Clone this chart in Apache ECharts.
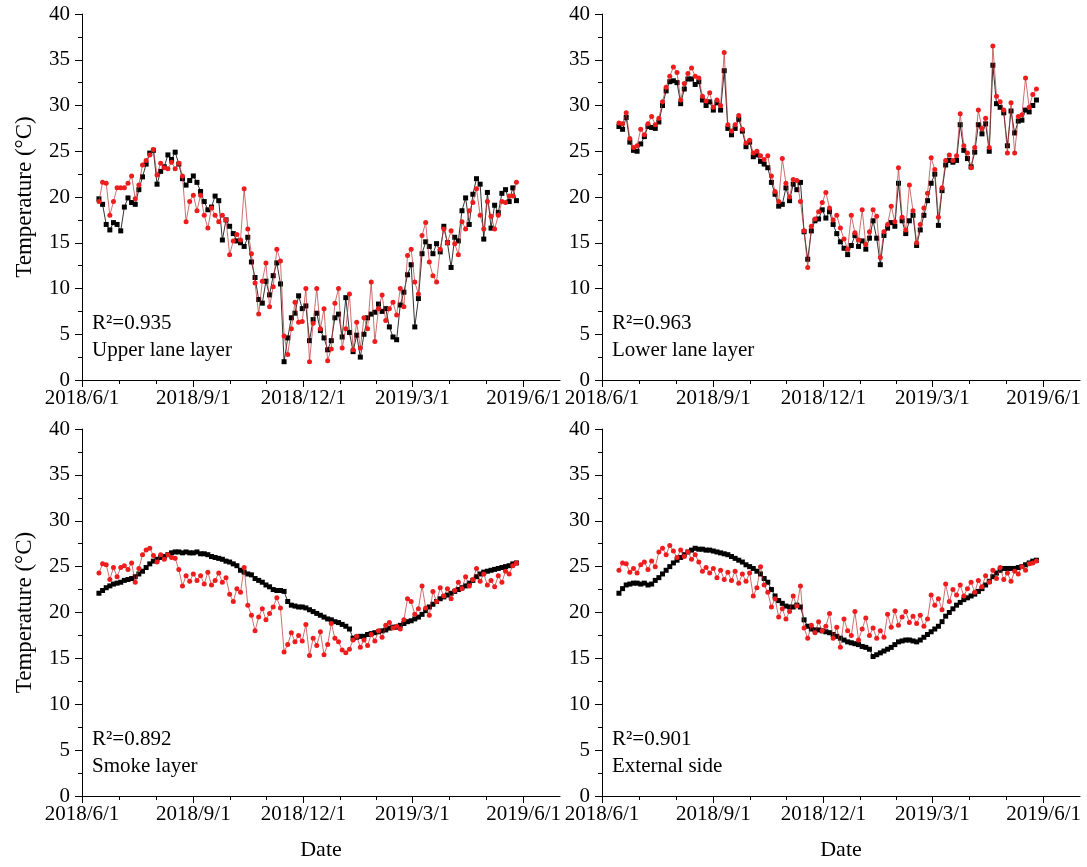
<!DOCTYPE html>
<html>
<head>
<meta charset="utf-8">
<script src="https://cdn.jsdelivr.net/npm/echarts@6/dist/echarts.min.js"></script>
<style>html,body{margin:0;padding:0;background:#fff}#c{width:1087px;height:867px}</style>
</head>
<body>
<div id="c"></div>
<script>
// ---- axis definitions (days since 2018/6/1) ----
const xTickDays = [0, 92, 183, 273, 365];
const xTickLabels = ['2018/6/1', '2018/9/1', '2018/12/1', '2019/3/1', '2019/6/1'];
const xMaxDay = 395;          // 2019/7/1
const yMin = 0, yMax = 40, yInterval = 5;

// ---- data: first sample on day 14 (2018/6/15), one sample every 3 days ----
const dayStart = 14;
const dayStep = 3;

const upperBlack = [
  19.8,19.2,17.0,16.4,17.2,17.0,16.3,18.9,19.9,19.4,
  19.2,20.8,22.2,23.6,24.8,25.1,21.4,22.8,23.3,24.6,
  24.1,24.9,23.6,22.0,21.3,21.8,22.3,21.6,20.6,19.5,
  18.6,18.9,20.1,19.6,15.3,17.5,16.8,16.0,15.2,15.0,
  14.6,15.6,12.9,11.2,8.8,8.4,10.8,9.3,11.4,12.8,
  10.5,2.0,4.6,6.8,7.3,9.2,7.8,8.1,4.3,6.6,
  7.3,5.4,4.6,3.3,4.3,6.8,7.2,4.7,9.0,5.2,
  3.1,4.9,2.5,5.0,6.8,7.2,7.4,8.3,7.5,7.8,
  5.8,4.7,4.4,8.2,9.6,11.5,12.6,5.8,8.9,13.8,
  15.1,14.6,13.8,14.9,14.0,16.8,15.0,12.3,15.6,15.2,
  18.5,19.9,17.0,20.3,22.0,21.4,15.4,20.5,16.6,19.1,
  18.3,20.4,20.8,19.5,21.0,19.6
];
const upperRed = [
  19.5,21.6,21.5,18.0,19.5,21.0,21.0,21.0,21.5,22.3,
  19.8,21.3,23.5,24.0,24.6,25.2,22.4,23.7,23.2,23.1,
  23.8,23.1,23.7,22.3,17.3,19.5,20.2,18.5,20.2,18.0,
  16.6,18.8,18.0,17.3,18.0,17.5,13.7,15.2,15.9,15.3,
  20.9,16.5,13.8,10.6,7.2,10.8,12.8,8.0,10.2,14.3,
  13.0,4.8,2.8,5.6,8.5,6.3,6.4,10.0,2.0,6.2,
  10.0,5.6,7.8,2.1,3.4,8.4,10.0,3.5,5.6,9.4,
  3.3,6.3,3.5,6.8,5.6,10.7,4.2,7.8,9.3,6.5,
  7.8,8.5,7.1,10.0,8.0,13.6,14.3,10.7,9.4,15.8,
  17.2,12.9,11.4,10.7,14.3,16.5,15.0,16.3,14.9,13.7,
  17.3,16.5,18.5,19.4,20.9,18.0,16.5,19.5,17.9,16.5,
  18.0,19.5,19.4,20.1,20.1,21.6
];
const lowerBlack = [
  27.7,27.4,28.7,26.0,25.1,25.0,25.8,26.6,27.7,27.6,
  27.5,28.2,30.0,31.6,32.6,32.7,32.5,30.2,31.8,32.9,
  32.9,32.3,32.6,30.6,30.0,30.4,29.5,30.3,29.5,33.8,
  27.5,26.8,27.5,28.5,27.2,25.5,26.0,24.4,24.6,23.9,
  23.6,23.2,21.6,20.3,19.0,19.2,21.0,19.6,21.4,20.8,
  21.6,16.2,13.2,16.3,17.4,17.6,18.6,17.7,18.4,17.0,
  16.0,15.1,14.4,13.7,14.7,15.8,14.6,15.2,14.3,15.5,
  17.4,15.5,12.6,15.8,16.6,17.2,16.8,21.5,17.4,16.0,
  17.4,18.0,14.7,16.4,18.0,19.6,21.5,22.5,16.9,20.7,
  23.5,24.0,23.8,24.0,27.9,25.1,24.2,23.3,24.9,27.9,
  26.9,28.0,25.0,34.4,30.2,29.8,29.2,25.6,29.4,27.0,
  28.3,28.4,29.5,29.3,30.0,30.6
];
const lowerRed = [
  28.1,28.0,29.2,26.4,25.4,25.6,27.4,26.8,28.0,28.8,
  27.9,28.6,30.4,32.0,33.2,34.2,33.6,30.6,32.4,33.5,
  34.1,33.2,33.0,31.0,30.5,31.4,29.8,30.6,30.0,35.8,
  27.9,27.2,27.9,28.9,27.4,25.9,26.2,24.8,25.0,24.5,
  24.1,24.5,22.3,20.6,19.5,24.2,21.5,20.0,21.9,21.8,
  19.5,16.3,12.3,16.8,17.6,18.4,19.4,20.5,18.8,17.5,
  18.0,16.6,15.4,14.3,18.0,16.1,15.3,18.6,14.8,16.2,
  18.6,17.9,13.4,16.2,17.0,19.0,17.3,23.2,17.8,16.4,
  21.3,18.5,15.0,17.0,18.8,20.4,24.3,23.0,17.8,21.0,
  24.0,24.6,24.0,24.5,29.1,25.6,24.8,23.2,25.4,29.5,
  27.5,28.6,25.4,36.5,31.0,30.4,29.5,24.8,30.3,24.8,
  28.8,29.0,33.0,29.8,31.2,31.8
];
const smokeBlack = [
  22.1,22.4,22.7,22.9,23.1,23.2,23.3,23.5,23.6,23.7,
  23.9,24.2,24.5,24.9,25.3,25.6,25.8,26.0,26.1,26.3,
  26.5,26.6,26.6,26.5,26.6,26.5,26.5,26.6,26.4,26.4,
  26.3,26.1,26.0,25.9,25.8,25.6,25.5,25.3,25.1,24.6,
  24.4,24.2,24.1,23.7,23.5,23.3,23.0,22.8,22.5,22.4,
  22.4,22.3,21.2,20.8,20.7,20.6,20.6,20.5,20.3,20.1,
  19.9,19.7,19.5,19.3,19.2,19.0,18.9,18.7,18.5,18.2,
  17.2,17.3,17.4,17.4,17.6,17.7,17.8,17.9,18.0,18.1,
  18.3,18.4,18.4,18.6,18.8,19.0,19.1,19.3,19.5,19.8,
  20.2,20.6,20.9,21.2,21.5,21.7,21.9,22.1,22.3,22.5,
  22.7,22.9,23.2,23.5,23.9,24.2,24.4,24.5,24.6,24.7,
  24.8,24.9,25.0,25.1,25.3,25.4
];
const smokeRed = [
  24.3,25.3,25.2,23.6,24.9,23.9,24.9,25.1,24.7,25.4,
  23.3,24.8,26.3,26.8,27.0,26.2,25.5,26.3,25.8,26.3,
  26.0,25.9,24.7,22.9,24.0,23.4,24.2,23.5,24.0,23.1,
  24.4,23.0,23.5,24.3,23.3,23.8,22.0,21.2,22.6,22.2,
  24.9,20.8,19.7,18.0,19.5,20.4,19.2,19.9,20.6,21.6,
  20.5,15.7,16.5,17.8,16.8,17.5,16.9,18.7,15.3,17.2,
  16.4,17.9,15.4,16.5,18.8,17.2,16.8,15.9,15.6,16.0,
  17.0,17.4,16.2,17.0,16.4,17.6,16.9,18.0,17.3,18.6,
  18.9,18.3,18.5,18.2,19.2,21.5,21.2,19.8,20.4,22.9,
  20.5,19.7,22.3,21.2,22.7,21.8,22.6,21.5,22.4,23.3,
  22.6,23.9,22.9,23.6,24.8,23.4,24.2,23.0,23.5,22.8,
  24.0,23.3,24.5,24.2,25.1,25.4
];
const externalBlack = [
  22.1,22.6,23.0,23.1,23.2,23.2,23.1,23.2,23.0,23.1,
  23.5,23.8,24.2,24.6,25.0,25.4,25.7,26.0,26.3,26.6,
  26.8,27.0,26.9,26.9,26.8,26.8,26.7,26.6,26.5,26.4,
  26.3,26.1,25.9,25.7,25.5,25.2,25.0,24.8,24.5,24.2,
  23.7,23.3,22.5,21.8,21.3,21.0,20.7,20.6,20.6,20.8,
  20.6,19.2,18.5,18.2,18.1,18.1,18.0,17.9,17.8,17.6,
  17.4,17.2,17.0,16.8,16.7,16.6,16.5,16.3,16.2,16.0,
  15.2,15.4,15.6,15.8,16.0,16.2,16.5,16.8,16.9,17.0,
  17.0,16.9,16.8,17.0,17.3,17.6,17.9,18.2,18.5,19.0,
  19.6,20.0,20.4,20.8,21.1,21.4,21.6,21.8,22.0,22.3,
  22.6,23.0,23.4,23.9,24.3,24.6,24.8,24.8,24.8,24.8,
  24.9,25.0,25.2,25.4,25.6,25.7
];
const externalRed = [
  24.6,25.4,25.3,24.4,24.8,24.3,25.2,25.5,24.7,25.6,
  25.0,26.6,27.0,26.3,27.3,26.7,26.0,26.8,26.1,26.6,
  25.8,26.3,25.5,24.5,24.9,24.3,24.8,23.8,24.6,23.6,
  24.4,23.5,24.5,23.2,24.2,23.4,24.3,21.8,22.7,25.0,
  23.0,22.2,20.6,21.5,19.5,20.4,19.3,20.1,21.8,20.7,
  22.9,18.3,17.2,18.6,17.8,19.0,18.0,18.5,19.9,17.2,
  18.4,16.2,19.3,18.0,17.5,20.1,17.0,18.2,19.4,17.5,
  18.3,17.2,18.0,17.3,19.8,18.4,20.2,18.6,19.5,20.1,
  18.9,19.6,18.8,19.7,18.5,19.3,21.9,20.8,21.5,20.3,
  23.1,21.2,22.5,21.9,23.0,21.8,22.6,23.3,22.2,23.5,
  22.8,24.0,23.3,24.6,23.7,24.9,23.6,24.3,23.4,24.5,
  24.2,25.0,24.6,25.3,25.4,25.6
];

const panelLayers = ['Upper lane layer', 'Lower lane layer', 'Smoke layer', 'External side'];
const panelR2 = ['R²=0.935', 'R²=0.963', 'R²=0.892', 'R²=0.901'];
const panelBlack = [upperBlack, lowerBlack, smokeBlack, externalBlack];
const panelRed = [upperRed, lowerRed, smokeRed, externalRed];
const yAxisTitle = 'Temperature (°C)';
const xAxisTitle = 'Date';

// ---- layout / style ----
const FONT = "'Liberation Serif', 'Times New Roman', serif";
const grids = [
  { left: 82,  top: 14,  width: 478, height: 366 },
  { left: 602, top: 14,  width: 478, height: 366 },
  { left: 82,  top: 429, width: 478, height: 367 },
  { left: 602, top: 429, width: 478, height: 367 }
];

function toPoints(arr) {
  return arr.map((v, i) => [dayStart + i * dayStep, v]);
}
// minor x ticks: thirds between major ticks
const xMinor = [];
for (let k = 0; k < xTickDays.length - 1; k++) {
  const a = xTickDays[k], b = xTickDays[k + 1];
  xMinor.push(a + (b - a) / 3, a + 2 * (b - a) / 3);
}

const xAxes = [], yAxes = [], series = [], graphics = [];
grids.forEach((g, k) => {
  const isBottom = k >= 2, isLeft = k % 2 === 0;
  xAxes.push({
    type: 'value', gridIndex: k, min: 0, max: xMaxDay, position: 'bottom',
    axisLine: { show: true, onZero: false, lineStyle: { color: '#000', width: 1 } },
    axisTick: { show: true, customValues: xTickDays, length: 7, lineStyle: { color: '#000', width: 1 } },
    axisLabel: {
      show: true, customValues: xTickDays, fontSize: 21, fontFamily: FONT, color: '#000', margin: 8,
      formatter: v => { const i = xTickDays.findIndex(d => Math.abs(d - v) < 0.01); return i >= 0 ? xTickLabels[i] : ''; }
    },
    splitLine: { show: false },
    name: isBottom ? xAxisTitle : '', nameLocation: 'middle', nameGap: 43,
    nameTextStyle: { fontSize: 22, fontFamily: FONT, color: '#000' }
  });
  yAxes.push({
    type: 'value', gridIndex: k, min: yMin, max: yMax, interval: yInterval,
    axisLine: { show: true, onZero: false, lineStyle: { color: '#000', width: 1 } },
    axisTick: { show: true, length: 7, lineStyle: { color: '#000', width: 1 } },
    minorTick: { show: true, splitNumber: 2, length: 4, lineStyle: { color: '#000', width: 1 } },
    axisLabel: { fontSize: 21, fontFamily: FONT, color: '#000', margin: 12 },
    splitLine: { show: false }, minorSplitLine: { show: false },
    name: isLeft ? yAxisTitle : '', nameLocation: 'middle', nameGap: 46,
    nameTextStyle: { fontSize: 23, fontFamily: FONT, color: '#000' }
  });
  series.push({
    type: 'line', xAxisIndex: k, yAxisIndex: k, data: toPoints(panelBlack[k]),
    symbol: 'rect', symbolSize: 5, showSymbol: true, silent: true,
    itemStyle: { color: '#000' }, lineStyle: { color: '#000', width: 0.8 }, z: 2
  });
  series.push({
    type: 'line', xAxisIndex: k, yAxisIndex: k, data: toPoints(panelRed[k]),
    symbol: 'circle', symbolSize: 5, showSymbol: true, silent: true,
    itemStyle: { color: '#ee1c1c' }, lineStyle: { color: '#b83030', width: 0.7 }, z: 3
  });
  const tx = g.left + 10;
  const ty = g.top + g.height - 57;
  graphics.push({ type: 'text', x: tx, y: ty, style: { text: panelR2[k], fontSize: 21, fontFamily: FONT, fill: '#000', align: 'left', verticalAlign: 'middle' } });
  graphics.push({ type: 'text', x: tx, y: ty + 27, style: { text: panelLayers[k], fontSize: 21, fontFamily: FONT, fill: '#000', align: 'left', verticalAlign: 'middle' } });
});
// minor tick axes
grids.forEach((g, k) => {
  xAxes.push({
    type: 'value', gridIndex: k, min: 0, max: xMaxDay, position: 'bottom',
    axisLine: { show: false }, axisLabel: { show: false }, splitLine: { show: false },
    axisTick: { show: true, customValues: xMinor, length: 4, lineStyle: { color: '#000', width: 1 } }
  });
});

const chart = echarts.init(document.getElementById('c'), null, { renderer: 'canvas' });
chart.setOption({
  animation: false,
  backgroundColor: '#fff',
  grid: grids.map(g => Object.assign({ containLabel: false, outerBoundsMode: 'none' }, g)),
  xAxis: xAxes,
  yAxis: yAxes,
  series: series,
  graphic: graphics
});
</script>
</body>
</html>
